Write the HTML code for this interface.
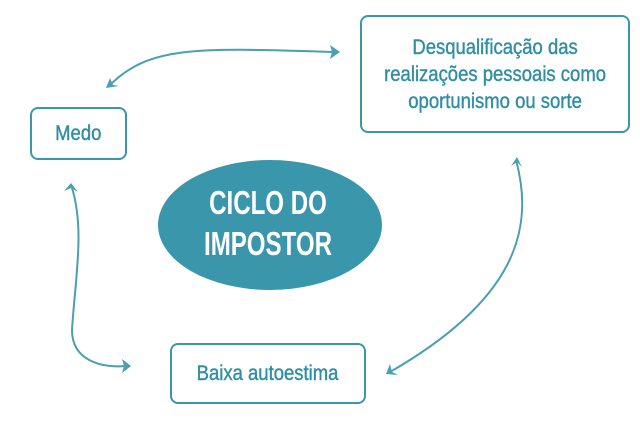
<!DOCTYPE html>
<html><head><meta charset="utf-8"><style>
body{margin:0;width:640px;height:422px;background:#fff;position:relative;overflow:hidden;font-family:"Liberation Sans",sans-serif}
.box{position:absolute;border:2px solid #3a97ab;border-radius:8px;box-sizing:border-box;color:#2f8ea3;display:flex;align-items:center;justify-content:center;text-align:center}
.t{display:inline-block;transform:scaleX(0.88);white-space:nowrap;-webkit-text-stroke:0.4px #2f8ea3}
</style></head><body>
<svg width="640" height="422" style="position:absolute;left:0;top:0">
<ellipse cx="270" cy="225" rx="112" ry="65" fill="#3a97ab"/>
<g fill="none" stroke="#4a9fb2" stroke-width="2">
<path d="M110 85 C150 45 200 48 335 52"/>
<path d="M72 188 C85 230 75 280 72 330 C72 360 100 368 126 366"/>
<path d="M516 160 C535 230 515 300 390 372"/>
</g>
<g fill="#4a9fb2">
<polygon points="340,52 330,45 332,52 330,59"/>
<polygon points="106,88 110,78 113,85 119,86"/>
<polygon points="71,183 64,191 71,188 78,192"/>
<polygon points="131,366 122,359 124,366 122,373"/>
<polygon points="517,157 511,166 517,162 522,167"/>
<polygon points="386,374 390,364 392,372 398,375"/>
</g>
<g transform="translate(268 0) scale(0.73 1) translate(-268 0)" fill="#fff" font-size="33" font-weight="bold" text-anchor="middle">
<text x="268" y="214">CICLO DO</text>
<text x="268" y="255">IMPOSTOR</text>
</g>
</svg>
<div class="box" style="left:30px;top:107px;width:97px;height:53px;font-size:21px"><span class="t">Medo</span></div>
<div class="box" style="left:360px;top:15px;width:270px;height:118px;font-size:21px;line-height:27px"><span class="t">Desqualificação das<br>realizações pessoais como<br>oportunismo ou sorte</span></div>
<div class="box" style="left:170px;top:343px;width:196px;height:61px;font-size:21px"><span class="t">Baixa autoestima</span></div>
</body></html>
